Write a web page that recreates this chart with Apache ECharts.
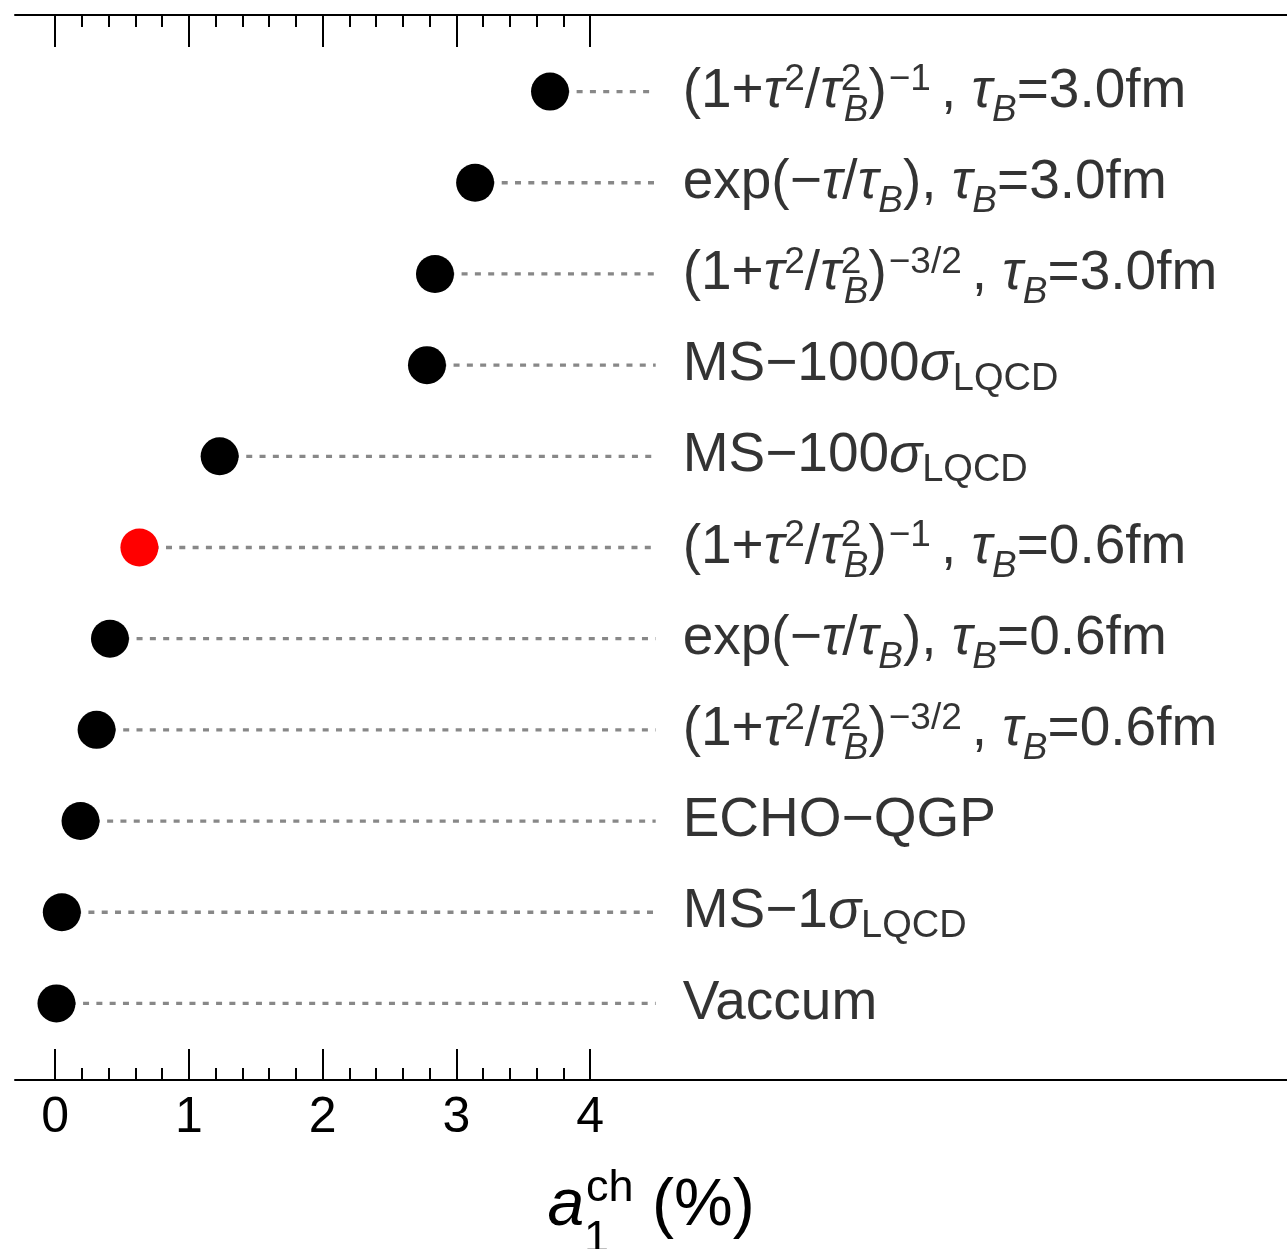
<!DOCTYPE html>
<html>
<head>
<meta charset="utf-8">
<script src="https://cdn.jsdelivr.net/npm/echarts@6/dist/echarts.min.js"></script>
<style>
  html, body { margin: 0; padding: 0; background: #fff; }
  #chart { width: 1287px; height: 1249px; }
</style>
</head>
<body>
<div id="chart"></div>
<script>
// Model rows, listed from top to bottom (rich-text markup for sub/superscripts)
const ROW_LABELS = [
  '{m|(1+}{t|τ}{sp|2}{m|/}{t|τ}{spz|2}{sb|B}{m|)}{ex|−1}{m|, }{t|τ}{sb|B}{m|=3.0fm}',
  '{m|exp(−}{t|τ}{m|/}{t|τ}{sb|B}{m|), }{t|τ}{sb|B}{m|=3.0fm}',
  '{m|(1+}{t|τ}{sp|2}{m|/}{t|τ}{spz|2}{sb|B}{m|)}{ex|−3/2}{m|, }{t|τ}{sb|B}{m|=3.0fm}',
  '{m|MS−1000}{t|σ}{sl|LQCD}',
  '{m|MS−100}{t|σ}{sl|LQCD}',
  '{m|(1+}{t|τ}{sp|2}{m|/}{t|τ}{spz|2}{sb|B}{m|)}{ex|−1}{m|, }{t|τ}{sb|B}{m|=0.6fm}',
  '{m|exp(−}{t|τ}{m|/}{t|τ}{sb|B}{m|), }{t|τ}{sb|B}{m|=0.6fm}',
  '{m|(1+}{t|τ}{sp|2}{m|/}{t|τ}{spz|2}{sb|B}{m|)}{ex|−3/2}{m|, }{t|τ}{sb|B}{m|=0.6fm}',
  '{m|ECHO−QGP}',
  '{m|MS−1}{t|σ}{sl|LQCD}',
  '{m|Vaccum}'
];

// Charged dipole coefficient a1^ch in percent, same order as ROW_LABELS
const A1_VALUES = [3.70, 3.14, 2.84, 2.78, 1.23, 0.63, 0.41, 0.31, 0.19, 0.05, 0.01];

// Row drawn in red
const HIGHLIGHT_ROW = 5;

// Axis ticks
const MAJOR_TICKS = [0, 1, 2, 3, 4];
const MINOR_TICKS = [0.2, 0.4, 0.6, 0.8, 1.2, 1.4, 1.6, 1.8, 2.2, 2.4, 2.6, 2.8, 3.2, 3.4, 3.6, 3.8];

// Where the dotted leader lines stop, in axis units
const LEADER_END = 4.49;

const X_MIN = -0.3, X_MAX = 9.21;
const Y_MIN = 0.16, Y_MAX = 11.84;

const FONT = '"Liberation Sans", Arial, Helvetica, sans-serif';
const nRows = ROW_LABELS.length;
const rowY = i => nRows - i;

function tok(size, extra) {
  return Object.assign({ fontFamily: FONT, fontSize: size, color: '#000', verticalAlign: 'middle', align: 'left' }, extra || {});
}

// Row label styles: main text, italic symbol, superscript, stacked superscript,
// outer exponent, italic subscript, upright subscript
const rich = {
  m:   tok(55),
  t:   tok(55, { fontStyle: 'italic' }),
  sp:  tok(37, { padding: [0, 0, 23, 0] }),
  spz: tok(37, { padding: [0, 0, 23, 0], width: 3 }),
  ex:  tok(37, { padding: [0, 10, 23, 2] }),
  sb:  tok(37, { fontStyle: 'italic', padding: [38, 0, 0, 0] }),
  sl:  tok(38, { padding: [28, 0, 0, 0] })
};

// Axis title styles
const nameRich = {
  a:  tok(66, { fontStyle: 'italic' }),
  s1: tok(45, { padding: [65, 0, 0, 0], width: 2 }),
  ch: tok(45, { padding: [0, 0, 37, 0] }),
  n:  tok(66)
};

const leaderData = A1_VALUES.map((v, i) => [v, rowY(i), LEADER_END]);
const dotData = A1_VALUES.map((v, i) => ({
  value: [v, rowY(i)],
  itemStyle: { color: i === HIGHLIGHT_ROW ? '#ff0000' : '#000000', opacity: 1 }
}));
const labelData = ROW_LABELS.map((txt, i) => ({ value: [LEADER_END, rowY(i)], label: { formatter: txt } }));

const baseX = {
  type: 'value', min: X_MIN, max: X_MAX, gridIndex: 0,
  splitLine: { show: false }
};

const chart = echarts.init(document.getElementById('chart'), null, { renderer: 'canvas' });
chart.setOption({
  animation: false,
  backgroundColor: '#ffffff',
  grid: { left: 15, right: 0, top: 15, bottom: 169, containLabel: false, outerBoundsMode: 'none' },
  xAxis: [
    Object.assign({}, baseX, {
      position: 'bottom',
      axisLine: { show: true, lineStyle: { color: '#000', width: 2 } },
      axisTick: { show: true, inside: true, length: 31, lineStyle: { color: '#000', width: 2 }, customValues: MAJOR_TICKS },
      axisLabel: { show: true, customValues: MAJOR_TICKS, margin: 13, fontFamily: FONT, fontSize: 50, color: '#000' },
      name: '{a|a}{s1|1}{ch|ch}{n| (%)}',
      nameLocation: 'middle',
      nameGap: 72,
      nameTextStyle: { rich: nameRich }
    }),
    Object.assign({}, baseX, {
      position: 'bottom',
      axisLine: { show: false },
      axisTick: { show: true, inside: true, length: 12, lineStyle: { color: '#000', width: 2 }, customValues: MINOR_TICKS },
      axisLabel: { show: false }
    }),
    Object.assign({}, baseX, {
      position: 'top',
      axisLine: { show: true, lineStyle: { color: '#000', width: 2 } },
      axisTick: { show: true, inside: true, length: 32, lineStyle: { color: '#000', width: 2 }, customValues: MAJOR_TICKS },
      axisLabel: { show: false }
    }),
    Object.assign({}, baseX, {
      position: 'top',
      axisLine: { show: false },
      axisTick: { show: true, inside: true, length: 12, lineStyle: { color: '#000', width: 2 }, customValues: MINOR_TICKS },
      axisLabel: { show: false }
    })
  ],
  yAxis: { type: 'value', min: Y_MIN, max: Y_MAX, show: false },
  series: [
    {
      type: 'custom',
      xAxisIndex: 0,
      data: leaderData,
      renderItem: function (params, api) {
        const p0 = api.coord([api.value(0), api.value(1)]);
        const p1 = api.coord([api.value(2), api.value(1)]);
        return {
          type: 'line',
          shape: { x1: p0[0], y1: p0[1], x2: p1[0], y2: p1[1] },
          style: { stroke: '#888888', lineWidth: 3.3, lineDash: [6, 7.3] }
        };
      },
      silent: true
    },
    {
      type: 'scatter',
      xAxisIndex: 0,
      symbol: 'circle',
      symbolSize: 38,
      data: dotData,
      itemStyle: { opacity: 1 },
      silent: true,
      z: 3
    },
    {
      type: 'scatter',
      xAxisIndex: 0,
      symbolSize: 0,
      data: labelData,
      silent: true,
      label: { show: true, position: 'right', distance: 27, rich: rich, color: '#000' }
    }
  ]
});
</script>
</body>
</html>
